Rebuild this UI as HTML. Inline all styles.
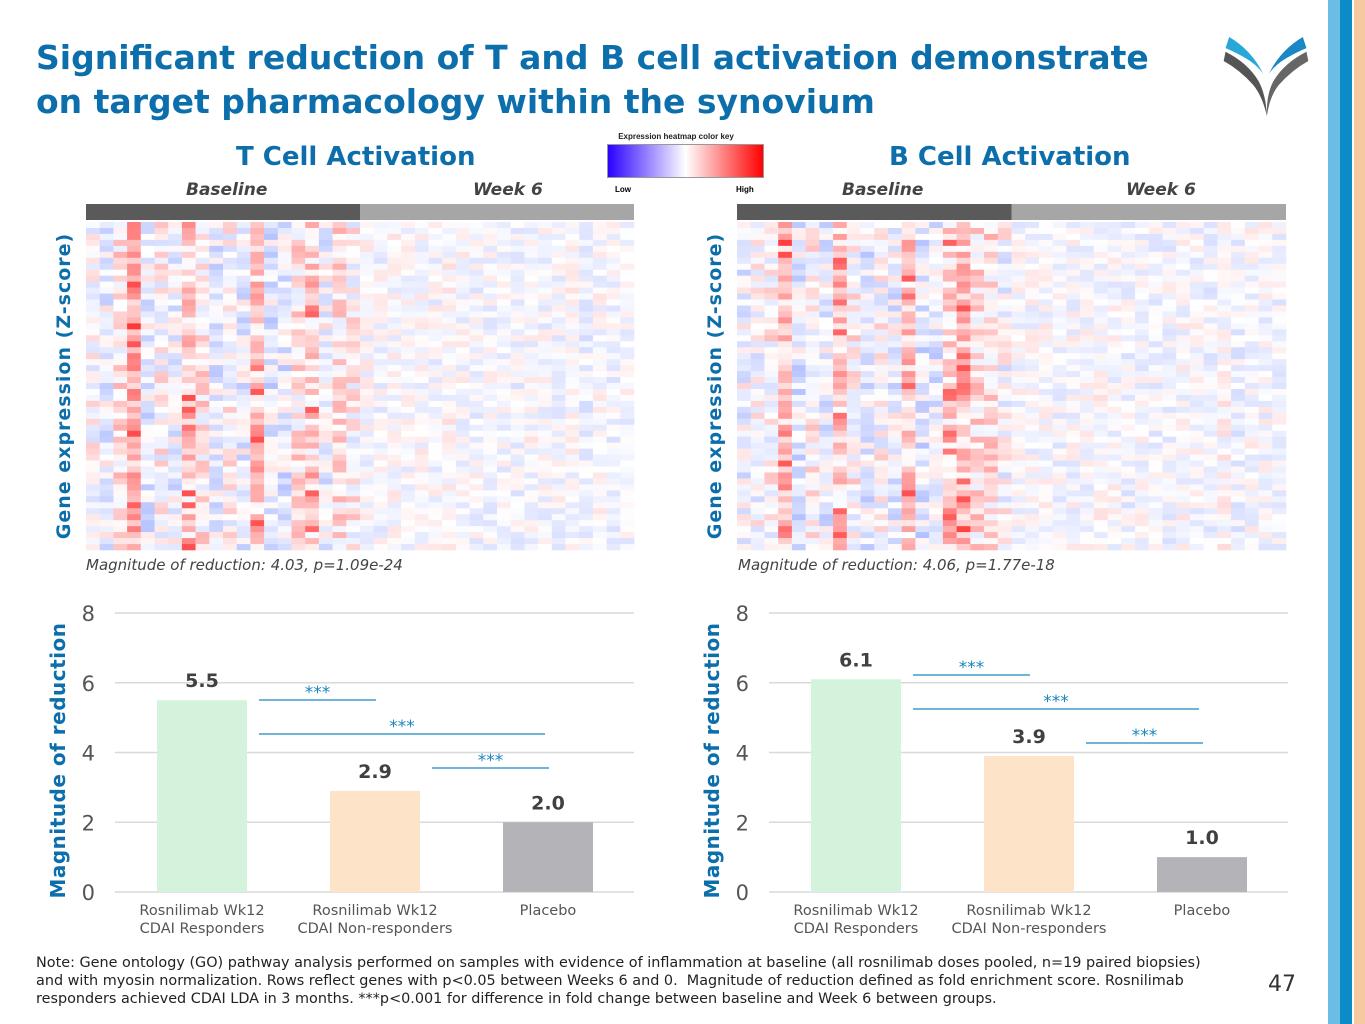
<!DOCTYPE html>
<html><head><meta charset="utf-8">
<style>
body{margin:0;width:1365px;height:1024px;background:#fff;position:relative;overflow:hidden;font-family:"Liberation Sans","DejaVu Sans",sans-serif;}
.abs{position:absolute;}
#title{left:36px;top:36px;font-size:33px;font-weight:bold;color:#0c6fab;line-height:44px;font-family:"DejaVu Sans","Liberation Sans",sans-serif;}
.sec{font-size:26px;font-weight:bold;color:#0c6fab;font-family:"DejaVu Sans",sans-serif;}
.grp{font-size:17px;font-weight:bold;font-style:italic;color:#444;font-family:"DejaVu Sans",sans-serif;}
.mag{font-size:15px;font-style:italic;color:#444;font-family:"DejaVu Sans",sans-serif;}
.note{left:36px;top:954px;width:1185px;font-size:14.4px;color:#222;line-height:18px;font-family:"DejaVu Sans",sans-serif;}
</style></head><body>
<div id="title" class="abs">Significant reduction of T and B cell activation demonstrate<br>on target pharmacology within the synovium</div>

<svg class="abs" style="left:1220px;top:22px" width="92" height="100" viewBox="0 0 100 100">
<path d="M6 28 Q30 40 42 60 Q50 75 51 98 Q46 76 36 64 Q22 48 4 38Z" fill="#555"/>
<path d="M10 12 Q34 26 47 52 Q40 42 28 35 Q16 28 6 24Z" fill="#29a8d8"/>
<path d="M94 28 Q70 40 58 60 Q50 75 51 98 Q54 76 64 64 Q78 48 96 38Z" fill="#666"/>
<path d="M90 12 Q66 26 53 52 Q60 42 72 35 Q84 28 94 24Z" fill="#1b88c6"/>
</svg>
<div class="abs" style="left:1328px;top:0;width:12px;height:1024px;background:#6cbde3"></div>
<div class="abs" style="left:1340px;top:0;width:12px;height:1024px;background:#0b8bc8"></div>
<div class="abs" style="left:1354px;top:0;width:11px;height:1024px;background:#f6c9a0"></div>

<div class="abs sec" style="left:236px;top:142px">T Cell Activation</div>
<div class="abs sec" style="left:889px;top:142px">B Cell Activation</div>
<div class="abs grp" style="left:186px;top:180px">Baseline</div>
<div class="abs grp" style="left:473px;top:180px">Week 6</div>
<div class="abs grp" style="left:842px;top:180px">Baseline</div>
<div class="abs grp" style="left:1126px;top:180px">Week 6</div>

<div class="abs" style="left:596px;top:132px;width:160px;text-align:center;font-size:8px;font-weight:bold;color:#222">Expression heatmap color key</div>
<div class="abs" style="left:607px;top:144px;width:155px;height:32px;background:linear-gradient(to right,#2a00ff,#fff 50%,#ff0000);border:1px solid #999"></div>
<div class="abs" style="left:615px;top:185px;font-size:8px;font-weight:bold">Low</div>
<div class="abs" style="left:736px;top:185px;font-size:8px;font-weight:bold">High</div>

<svg class="abs" style="left:0;top:0" width="1365" height="1024" id="main"></svg>

<div class="abs mag" style="left:86px;top:556px">Magnitude of reduction: 4.03, p=1.09e-24</div>
<div class="abs mag" style="left:738px;top:556px">Magnitude of reduction: 4.06, p=1.77e-18</div>

<div class="abs note">Note: Gene ontology (GO) pathway analysis performed on samples with evidence of inflammation at baseline (all rosnilimab doses pooled, n=19 paired biopsies) and with myosin normalization. Rows reflect genes with p&lt;0.05 between Weeks 6 and 0.&nbsp; Magnitude of reduction defined as fold enrichment score. Rosnilimab responders achieved CDAI LDA in 3 months. ***p&lt;0.001 for difference in fold change between baseline and Week 6 between groups.</div>
<div class="abs" style="left:1268px;top:972px;font-size:22px;color:#333;font-family:'DejaVu Sans',sans-serif">47</div>

<script>
// Heatmap column tendencies (-1 blue .. +1 red)
const tColBias=[0.05,-0.2,0.25,0.75,-0.25,0.05,-0.2,0.45,0.25,-0.25,0.05,-0.2,0.55,-0.3,-0.3,0.25,0.4,-0.15,0.3,0.1,
 -0.05,-0.15,0.0,-0.1,-0.05,-0.1,0.05,-0.1,-0.15,-0.15,-0.2,-0.2,-0.05,-0.15,-0.15,0.0,-0.3,-0.05,-0.2,-0.15];
const bColBias=[-0.15,-0.05,0.1,0.6,-0.3,0.1,-0.25,0.45,0.1,-0.3,0.0,-0.2,0.45,-0.35,-0.3,0.4,0.55,0.3,0.3,-0.05,
 -0.1,-0.1,-0.05,-0.15,-0.1,-0.1,0.0,-0.1,-0.2,-0.15,-0.2,-0.2,-0.05,-0.15,-0.2,0.05,-0.3,-0.1,-0.1,-0.15];
// Bar chart data
const categories=["Rosnilimab Wk12|CDAI Responders","Rosnilimab Wk12|CDAI Non-responders","Placebo"];
const tValues=[5.5,2.9,2.0];
const bValues=[6.1,3.9,1.0];
const yTicks=[0,2,4,6,8];
const tSig=[[0,1,0],[0,2,1],[1,2,2]]; // from, to, level
const bSig=[[0,1,0],[0,2,1],[1,2,2]];
const barColors=["#d3f3dd","#fde3c8","#b3b3b8"];

const NS="http://www.w3.org/2000/svg";
const svg=document.getElementById('main');
function mk(t,a,p){const e=document.createElementNS(NS,t);for(const k in a)e.setAttribute(k,a[k]);(p||svg).appendChild(e);return e;}
function hash(i,j,s){let h=(i*374761393+j*668265263+s*982451653)|0;h=(h^(h>>>13))*1274126177|0;return ((h^(h>>>16))>>>0)/4294967296;}
function col(v){v=Math.max(-1,Math.min(1,v));if(v>=0){const g=Math.round(255*(1-v));return `rgb(255,${g},${g})`;}const g=Math.round(255*(1+v*0.7));const r=Math.round(255*(1+v*0.85));return `rgb(${r},${g},255)`;}

function heatmap(x0,y0,w,h,bias,seed,name){
  const g=mk('g',{});
  
  
  mk('rect',{x:x0,y:y0-18,width:w/2,height:16,fill:'#5a5a5a'},g);
  mk('rect',{x:x0+w/2,y:y0-18,width:w/2,height:16,fill:'#a6a6a6'},g);
  const nc=bias.length,nr=55,cw=w/nc,rh=h/nr;
  for(let j=0;j<nc;j++)for(let i=0;i<nr;i++){
    const r=hash(i,j,seed),r2=hash(j,i,seed+7);
    let v=bias[j]*0.4+(r-0.5)*0.45;
    if(bias[j]>0.3 && r2>0.8) v+=0.3;
    if(j>=20) v*=0.6;
    const c=mk('rect',{x:(x0+j*cw).toFixed(2),y:(y0+i*rh).toFixed(2),width:(cw+0.3).toFixed(2),height:(rh+0.3).toFixed(2),fill:col(v)},g);
    
    
  }
  const t=mk('text',{x:0,y:0,transform:`translate(${x0-16},${y0+h/2}) rotate(-90)`,'text-anchor':'middle','font-size':19,'font-weight':'bold',fill:'#0c6fab','font-family':'DejaVu Sans,sans-serif','letter-spacing':'1'},g);
  t.textContent='Gene expression (Z-score)';
  
  
}
heatmap(86,222,548,328,tColBias,3,'t-cell-heatmap');
heatmap(737,222,549,328,bColBias,11,'b-cell-heatmap');

function barChart(x0,x1,vals,sig,sigY,name){
  const y0=892,y8=613;
  const y=v=>y0-(y0-y8)*v/8;
  const xc=i=>x0+87+173*i;
  const g=mk('g',{});
  
  
  yTicks.forEach(t=>{
    mk('line',{x1:x0,x2:x1,y1:y(t),y2:y(t),stroke:'#d9d9d9','stroke-width':1.5},g);
    const l=mk('text',{x:x0-20,y:y(t)+8,'text-anchor':'end','font-size':21,fill:'#555','font-family':'DejaVu Sans,sans-serif'},g);
    l.textContent=t;
    
    
  });
  vals.forEach((v,i)=>{
    const b=mk('rect',{x:xc(i)-45,y:y(v),width:90,height:y0-y(v),fill:barColors[i]},g);
    
    
    const t=mk('text',{x:xc(i),y:y(v)-13,'text-anchor':'middle','font-size':19,'font-weight':'bold',fill:'#404040','font-family':'DejaVu Sans,sans-serif'},g);
    t.textContent=v.toFixed(1);
    
    
    categories[i].split('|').forEach((ln,k)=>{
      const c=mk('text',{x:xc(i),y:915+k*18,'text-anchor':'middle','font-size':14.5,fill:'#555','font-family':'DejaVu Sans,sans-serif'},g);
      c.textContent=ln;
      
      
    });
  });
  sig.forEach(([a,b,lv])=>{
    const ly=sigY+lv*34;
    const xa=xc(a)+57;
    const xb=xc(b)+(lv===1?-3:1);
    mk('line',{x1:xa,x2:xb,y1:ly,y2:ly,stroke:'#1a86bf','stroke-width':1.3},g);
    const s=mk('text',{x:(xa+xb)/2,y:ly-2,'text-anchor':'middle','font-size':17,fill:'#1a86bf','font-family':'DejaVu Sans,sans-serif'},g);
    s.textContent='***';
    
    
  });
  const at=mk('text',{x:0,y:0,transform:`translate(${x0-50},${(y0+y8)/2+8}) rotate(-90)`,'text-anchor':'middle','font-size':20,'font-weight':'bold',fill:'#0c6fab','font-family':'DejaVu Sans,sans-serif','letter-spacing':'0.5'},g);
  at.textContent='Magnitude of reduction';
  
  
}
barChart(115,634,tValues,tSig,700,'t-cell-bar-chart');
barChart(769,1288,bValues,bSig,675,'b-cell-bar-chart');
</script>
</body></html>
